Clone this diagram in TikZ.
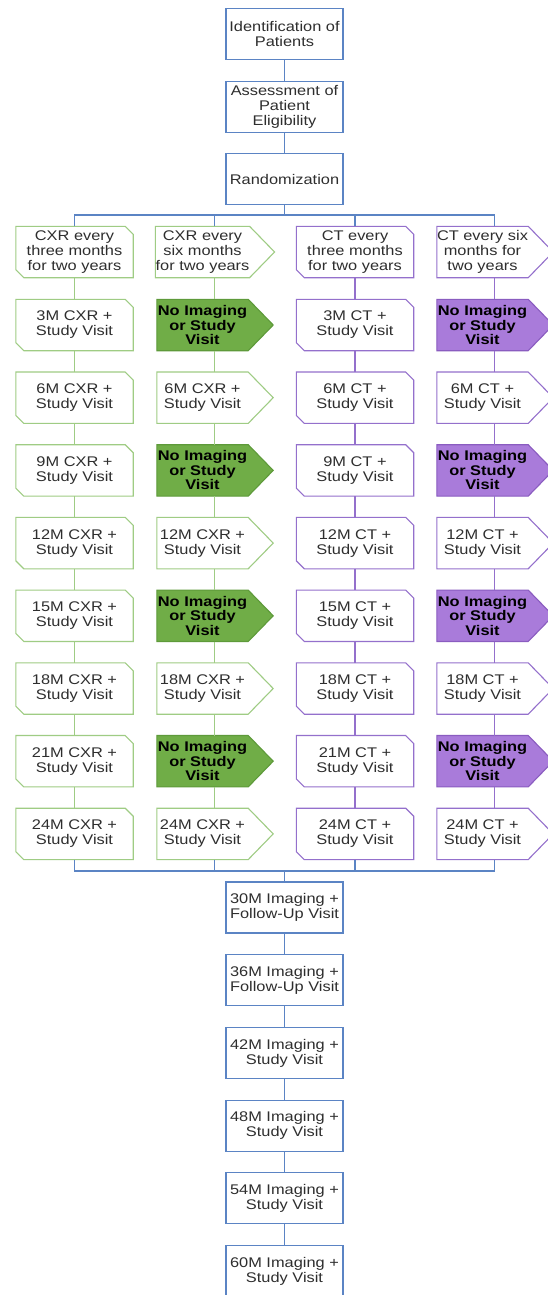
\documentclass[tikz,border=0pt]{standalone}
\usepackage{fontspec}
\setmainfont[FakeStretch=1.17]{Liberation Sans}
\usetikzlibrary{backgrounds,calc}
\definecolor{bluec}{HTML}{5B84C4}
\definecolor{greenc}{HTML}{9FCC84}
\definecolor{greenfill}{HTML}{70AD47}
\definecolor{greenedge}{HTML}{5E9A3A}
\definecolor{purplec}{HTML}{9470CC}
\definecolor{purplefill}{HTML}{A97BDA}
\definecolor{purpleedge}{HTML}{8A5CC0}
\definecolor{txt}{HTML}{2E2E2E}
\tikzset{
  box/.style={minimum width=117pt, minimum height=51pt, inner sep=0pt, align=center,
    font=\fontsize{14}{15}\selectfont, text=txt},
  bluebox/.style={box, draw=bluec, line width=1.1pt},
  hbox/.style={box, minimum width=91pt},
  boldtxt/.style={font=\fontsize{14}{14.5}\selectfont\bfseries, text=black},
  bline/.style={draw=bluec, line width=1.1pt},
  gline/.style={draw=greenc, line width=1.1pt},
  pline/.style={draw=purplec, line width=1.1pt},
}
\newcommand\snipoutline[2]{%
  \draw[#2] ([xshift=-8pt]#1.north east) -- ([yshift=-8pt]#1.north east) -- (#1.south east)
    -- ([xshift=8pt]#1.south west) -- ([yshift=8pt]#1.south west) -- (#1.north west) -- cycle;}
\newcommand\tipoutline[2]{%
  \draw[#2] (#1.north west) -- (#1.north east) -- ([xshift=25pt]#1.east) -- (#1.south east)
    -- (#1.south west) -- cycle;}
\begin{document}
\begin{tikzpicture}[x=1pt,y=-1pt]
\useasboundingbox (0,0) rectangle (548,1295);
% top
\node[bluebox] (ident) at (284.5,34) {Identification of\\Patients};
\node[bluebox] (assess) at (284.5,107) {Assessment of\\Patient\\Eligibility};
\node[bluebox] (rand) at (284.5,179) {Randomization};
% headers
\node[box] (c1r0) at (74.5,252) {CXR every\\three months\\for two years};
\node[hbox] (c2r0) at (202.5,252) {CXR every\\six months\\for two years};
\node[box] (c3r0) at (355,252) {CT every\\three months\\for two years};
\node[hbox] (c4r0) at (482.5,252) {CT every six\\months for\\two years};
% rows
\foreach \j/\m in {1/3,2/6,3/9,4/12,5/15,6/18,7/21,8/24}{
  \pgfmathsetmacro\yy{325+72.7*(\j-1)}
  \node[box] (c1r\j) at (74.5,\yy) {\m M CXR +\\Study Visit};
  \node[box] (c3r\j) at (355,\yy) {\m M CT +\\Study Visit};
  \ifodd\j
    \node[hbox,boldtxt] (c2r\j) at (202.5,\yy) {No Imaging\\or Study\\Visit};
    \node[hbox,boldtxt] (c4r\j) at (482.5,\yy) {No Imaging\\or Study\\Visit};
  \else
    \node[hbox] (c2r\j) at (202.5,\yy) {\m M CXR +\\Study Visit};
    \node[hbox] (c4r\j) at (482.5,\yy) {\m M CT +\\Study Visit};
  \fi
}
% bottom
\node[bluebox] (m30) at (284.5,907.5) {30M Imaging +\\Follow-Up Visit};
\node[bluebox] (m36) at (284.5,980.2) {36M Imaging +\\Follow-Up Visit};
\node[bluebox] (m42) at (284.5,1052.9) {42M Imaging +\\Study Visit};
\node[bluebox] (m48) at (284.5,1125.6) {48M Imaging +\\Study Visit};
\node[bluebox] (m54) at (284.5,1198.3) {54M Imaging +\\Study Visit};
\node[bluebox] (m60) at (284.5,1271) {60M Imaging +\\Study Visit};
% outlines
\begin{pgfonlayer}{background}
  \fill[white] (0,0) rectangle (548,1295);
  \foreach \j in {0,...,8}{
    \snipoutline{c1r\j}{gline,fill=white}
    \snipoutline{c3r\j}{pline,fill=white}
  }
  \foreach \j in {0,2,4,6,8}{
    \tipoutline{c2r\j}{gline,fill=white}
    \tipoutline{c4r\j}{pline,fill=white}
  }
  \foreach \j in {1,3,5,7}{
    \tipoutline{c2r\j}{draw=greenedge,line width=1.1pt,fill=greenfill}
    \tipoutline{c4r\j}{draw=purpleedge,line width=1.1pt,fill=purplefill}
  }
\end{pgfonlayer}
% connectors top
\draw[bline] (ident) -- (assess);
\draw[bline] (assess) -- (rand);
\coordinate (br) at (284.5,215);
\draw[bline] (rand) -- (br);
\draw[bline] (c1r0.north) -- (c1r0.north |- br) -- ([xshift=12pt]c4r0.north |- br) -- ([xshift=12pt]c4r0.north);
\draw[bline] ([xshift=12pt]c2r0.north) -- ([xshift=12pt]c2r0.north |- br);
\draw[bline] (c3r0.north) -- (c3r0.north |- br);
% column connectors
\foreach \j [evaluate=\j as \k using int(\j+1)] in {0,...,7}{
  \draw[gline] (c1r\j) -- (c1r\k);
  \draw[gline] ([xshift=12pt]c2r\j.south) -- ([xshift=12pt]c2r\k.north);
  \draw[pline] (c3r\j) -- (c3r\k);
  \draw[pline] ([xshift=12pt]c4r\j.south) -- ([xshift=12pt]c4r\k.north);
}
% merge
\coordinate (mg) at (284.5,871);
\draw[bline] (c1r8.south) -- (c1r8.south |- mg) -- ([xshift=12pt]c4r8.south |- mg) -- ([xshift=12pt]c4r8.south);
\draw[bline] ([xshift=12pt]c2r8.south) -- ([xshift=12pt]c2r8.south |- mg);
\draw[bline] (c3r8.south) -- (c3r8.south |- mg);
\draw[bline] (mg) -- (m30);
\draw[bline] (m30) -- (m36);
\draw[bline] (m36) -- (m42);
\draw[bline] (m42) -- (m48);
\draw[bline] (m48) -- (m54);
\draw[bline] (m54) -- (m60);
\end{tikzpicture}
\end{document}
